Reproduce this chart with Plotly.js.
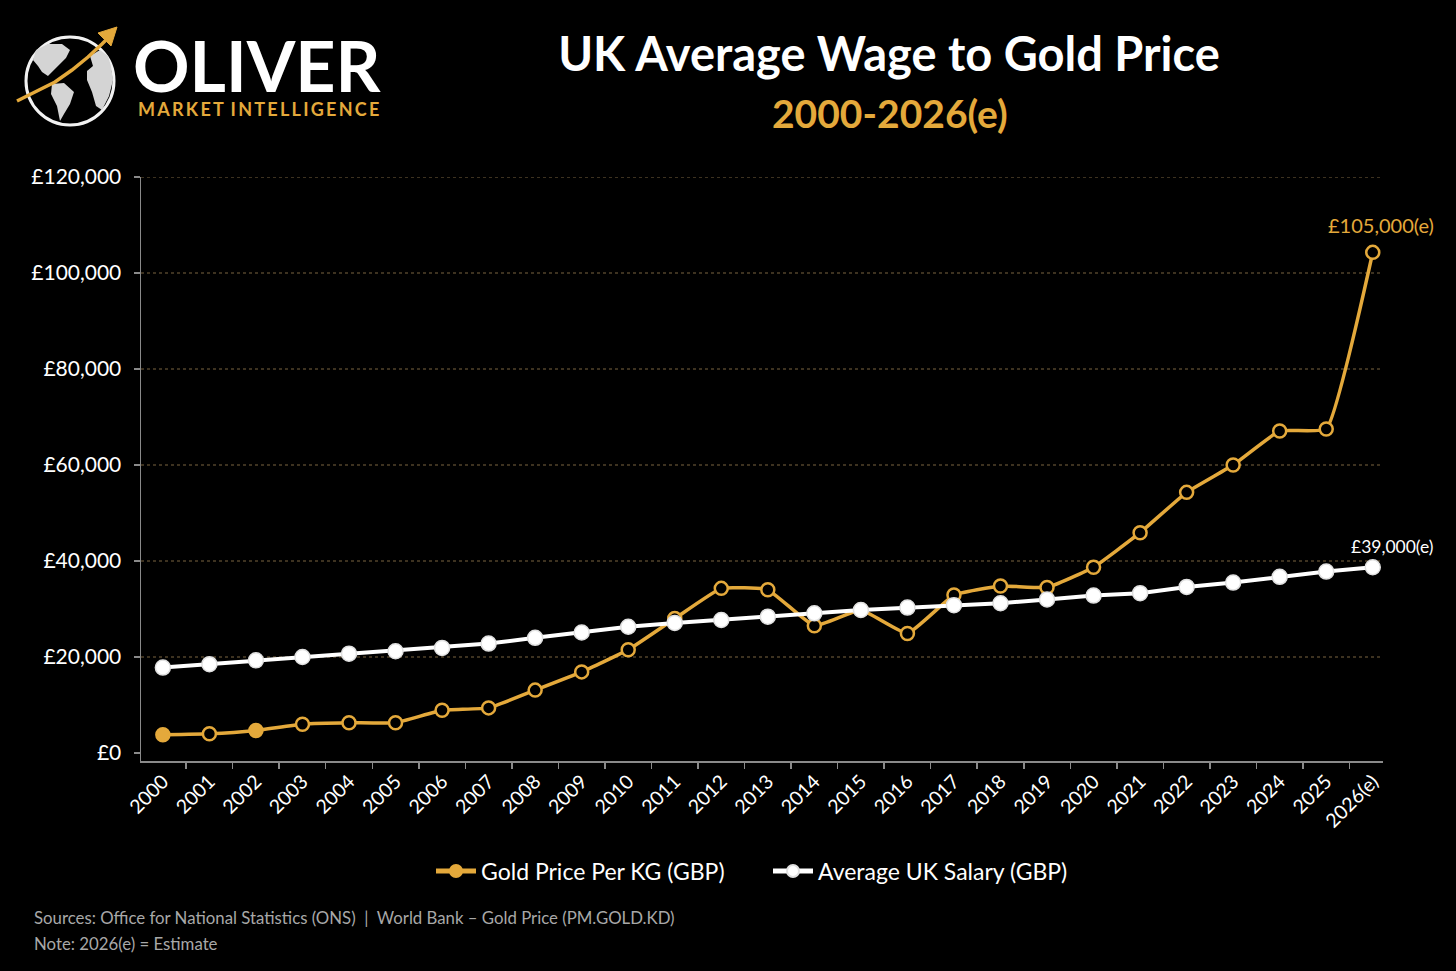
<!DOCTYPE html>
<html>
<head>
<meta charset="utf-8">
<script src="https://cdn.plot.ly/plotly-3.0.1.min.js"></script>
<style>
html,body{margin:0;padding:0;background:#000;}
#chart{width:1456px;height:971px;}
</style>
</head>
<body>
<div id="chart"></div>
<script>
// ---- Data ----
var years = ["2000","2001","2002","2003","2004","2005","2006","2007","2008","2009","2010","2011","2012","2013","2014","2015","2016","2017","2018","2019","2020","2021","2022","2023","2024","2025","2026(e)"];
var goldPerKg = [3800,4000,4700,6000,6300,6300,8900,9400,13100,16900,21500,28000,34300,34000,26500,29800,24900,32900,34800,34500,38700,45900,54300,60000,67100,67500,104300];
var ukSalary = [17800,18500,19300,20000,20700,21200,21900,22800,24000,25100,26300,27100,27700,28400,29100,29800,30300,30800,31200,32000,32800,33300,34600,35500,36700,37800,38700];
var yTicks = [0,20000,40000,60000,80000,100000,120000];
var yTickText = yTicks.map(function(v){ return "£" + v.toLocaleString("en-GB"); });
var goldLabel = "£105,000(e)";
var salaryLabel = "£39,000(e)";

// ---- Style ----
var GOLD = "#E4A93B";
var WHITE = "#FFFFFF";
var FONT = "Lato, 'Open Sans', sans-serif";

// plot-area geometry helpers (pixel -> paper) for decorations outside the plot
var L = 141, R = 1383, T = 177, B = 761;
function px(x){ return (x - L) / (R - L); }
function py(y){ return (B - y) / (B - T); }
function pathFrom(pts, close){
  var s = "";
  for (var i = 0; i < pts.length; i++){
    s += (i === 0 ? "M" : "L") + px(pts[i][0]).toFixed(5) + "," + py(pts[i][1]).toFixed(5) + " ";
  }
  return s + (close ? "Z" : "");
}

var goldFill = goldPerKg.map(function(v, i){ return (i === 0 || i === 2) ? GOLD : "#000"; });

var traces = [
  {
    type: "scatter", mode: "lines+markers", name: "Gold Price Per KG (GBP)",
    x: years, y: goldPerKg,
    line: {color: GOLD, width: 3.5, shape: "spline", smoothing: 0.35},
    marker: {size: 13, color: goldFill, line: {color: GOLD, width: 2.5}},
    hoverinfo: "skip"
  },
  {
    type: "scatter", mode: "lines+markers", name: "Average UK Salary (GBP)",
    x: years, y: ukSalary,
    line: {color: WHITE, width: 4},
    marker: {size: 15, color: WHITE, line: {color: "#e0e0e0", width: 1.5}},
    hoverinfo: "skip"
  }
];

// gridlines (skip zero)
var shapes = yTicks.filter(function(v){ return v > 0; }).map(function(v){
  return {type: "line", xref: "paper", yref: "y", x0: 0, x1: 1, y0: v, y1: v,
          line: {color: "#7a6440", width: 1, dash: "3px,3px"}, layer: "below"};
});

// logo decoration
shapes.push({type: "circle", xref: "paper", yref: "paper",
  x0: px(26), x1: px(114), y0: py(125), y1: py(37),
  line: {color: "#f2f2f2", width: 3}, fillcolor: "rgba(0,0,0,0)"});
shapes.push({type: "path", xref: "paper", yref: "paper",
  path: pathFrom([[36,50],[48,44],[62,44],[70,50],[66,58],[60,64],[54,70],[48,76],[42,72],[38,66],[33,60]], true),
  fillcolor: "#d4d4d4", line: {width: 0}});
shapes.push({type: "path", xref: "paper", yref: "paper",
  path: pathFrom([[52,84],[64,83],[74,92],[70,104],[64,114],[60,121],[57,106],[51,94]], true),
  fillcolor: "#d4d4d4", line: {width: 0}});
shapes.push({type: "path", xref: "paper", yref: "paper",
  path: pathFrom([[90,56],[100,50],[108,56],[111,66],[113,80],[109,96],[102,110],[96,106],[92,92],[87,80],[87,71],[93,66]], true),
  fillcolor: "#d4d4d4", line: {width: 0}});
shapes.push({type: "path", xref: "paper", yref: "paper",
  path: pathFrom([[17,101],[35,92],[55,82],[72,70],[88,57],[102,44],[109,37]], false),
  line: {color: GOLD, width: 3.5}});
shapes.push({type: "path", xref: "paper", yref: "paper",
  path: pathFrom([[117,27],[98,33],[111,46]], true),
  fillcolor: GOLD, line: {color: GOLD, width: 1}});

var annotations = [
  {xref: "paper", yref: "paper", x: px(890), y: py(113), xanchor: "center", yanchor: "middle",
   text: "2000-2026(e)", showarrow: false, font: {family: FONT, size: 39, color: GOLD, weight: 700}},
  {xref: "paper", yref: "paper", x: px(131), y: py(65), xanchor: "left", yanchor: "middle",
   height: 56, valign: "middle",
   text: "OLIVER", showarrow: false, font: {family: FONT, size: 70, color: WHITE, weight: 700}},
  {xref: "paper", yref: "paper", x: px(136), y: py(109), xanchor: "left", yanchor: "middle",
   text: "MARKET\u2009INTELLIGENCE".split("").join("\u2009"), showarrow: false,
   font: {family: FONT, size: 18, color: GOLD, weight: 700}},
  {xref: "x", yref: "y", x: years[years.length-1], y: goldPerKg[goldPerKg.length-1],
   xshift: 8, yshift: 27, text: goldLabel, showarrow: false,
   font: {family: FONT, size: 20, color: GOLD}},
  {xref: "x", yref: "y", x: years[years.length-1], y: ukSalary[ukSalary.length-1],
   xshift: 20, yshift: 21, text: salaryLabel, showarrow: false,
   font: {family: FONT, size: 17.5, color: WHITE}},
  {xref: "paper", yref: "paper", x: px(32), y: py(917), xanchor: "left", yanchor: "middle",
   text: "Sources: Office for National Statistics (ONS)  |  World Bank – Gold Price (PM.GOLD.KD)",
   showarrow: false, font: {family: FONT, size: 16.8, color: "#a8a8a8"}},
  {xref: "paper", yref: "paper", x: px(32), y: py(943), xanchor: "left", yanchor: "middle",
   text: "Note: 2026(e) = Estimate",
   showarrow: false, font: {family: FONT, size: 16.8, color: "#a8a8a8"}}
];

var layout = {
  width: 1456, height: 971,
  paper_bgcolor: "#000", plot_bgcolor: "#000",
  font: {family: FONT, color: WHITE},
  margin: {l: L, r: 1456 - R, t: T, b: 971 - B, pad: 0},
  title: {text: "UK Average Wage to Gold Price", x: 889/1456, xanchor: "center",
          y: 1 - 55/971, yanchor: "middle", yref: "container",
          font: {family: FONT, size: 47, color: WHITE, weight: 700}},
  showlegend: true,
  legend: {orientation: "h", x: px(768), xanchor: "center", y: py(871), yanchor: "middle",
           font: {family: FONT, size: 23, color: WHITE}, itemwidth: 40, entrywidth: 282,
           bgcolor: "rgba(0,0,0,0)", tracegroupgap: 0, itemsizing: "constant"},
  xaxis: {
    type: "category", range: [-0.47, 26.22], tickson: "boundaries",
    ticks: "outside", ticklen: 6, tickcolor: "#8a8a8a", tickwidth: 1.5,
    showline: true, linecolor: "#8a8a8a", linewidth: 1.5,
    showgrid: false, zeroline: false, tickangle: -45,
    tickfont: {family: FONT, size: 19.5, color: WHITE}, fixedrange: true
  },
  yaxis: {
    range: [-1667, 120000], tickmode: "array", tickvals: yTicks, ticktext: yTickText,
    ticks: "outside", ticklen: 6, tickcolor: "#8a8a8a", tickwidth: 1.5,
    showline: true, linecolor: "#8a8a8a", linewidth: 1.5,
    showgrid: false, zeroline: false, ticklabelstandoff: 8,
    tickfont: {family: FONT, size: 21, color: WHITE}, fixedrange: true
  },
  shapes: shapes,
  annotations: annotations
};

Plotly.newPlot("chart", traces, layout, {staticPlot: true, displayModeBar: false});
</script>
</body>
</html>
